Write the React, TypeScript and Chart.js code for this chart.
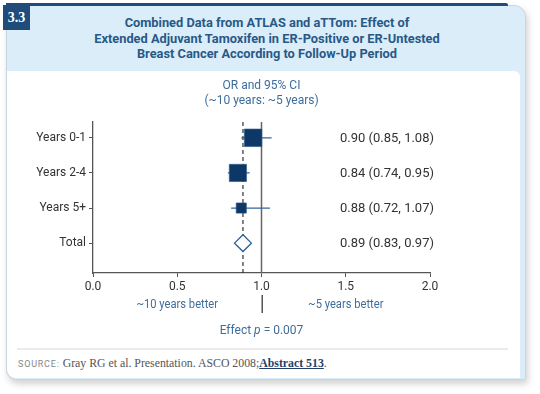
import React, { useEffect, useRef } from 'react';
import { Chart, registerables } from 'chart.js';

Chart.register(...registerables);

// ---- Data ----
const categories = ['Years 0-1', 'Years 2-4', 'Years 5+', 'Total'];
const periodOR = [0.95, 0.86, 0.88];
const periodLow = [0.88, 0.8, 0.82];
const periodHigh = [1.06, 0.93, 1.05];
const totalOR = 0.89;
const totalLow = 0.84;
const totalHigh = 0.94;
const orLabels = ['0.90 (0.85, 1.08)', '0.84 (0.74, 0.95)', '0.88 (0.72, 1.07)', '0.89 (0.83, 0.97)'];
const xTickValues = [0, 0.5, 1, 1.5, 2];
const betterLabels = ['~10 years better', '~5 years better'];
const effectP = '0.007';

// ---- Styles ----
const NAVY = '#0c3767';
const CI_BLUE = '#35659a';
const TEXT_BLUE = '#3f6d9b';
const AXIS = '#555555';
const FONT = 'Roboto, "Noto Sans", sans-serif';
const Y_MIN = -0.45;
const Y_MAX = 3.85;
const squareRadius = [12.4, 12.2, 7.2];

const annotPlugin = {
  id: 'annot',
  afterDraw(chart: any) {
    const { ctx, chartArea: a, scales } = chart;
    const x = scales.x;
    const y = scales.y;
    ctx.save();
    ctx.textBaseline = 'middle';
    ctx.font = `12px ${FONT}`;
    ctx.fillStyle = TEXT_BLUE;
    ctx.textAlign = 'center';
    ctx.fillText('OR and 95% CI', x.getPixelForValue(1), a.top - 36);
    ctx.fillText('(~10 years: ~5 years)', x.getPixelForValue(1), a.top - 21);

    ctx.fillStyle = '#333333';
    ctx.textAlign = 'right';
    ctx.font = `13px ${FONT}`;
    orLabels.forEach((t, i) => {
      ctx.fillText(t, a.right + 4, y.getPixelForValue(i) + 0.5);
    });

    ctx.font = `12px ${FONT}`;
    ctx.fillStyle = TEXT_BLUE;
    ctx.textAlign = 'center';
    ctx.save();
    ctx.translate(x.getPixelForValue(0.5), a.bottom + 32);
    ctx.scale(0.93, 1);
    ctx.fillText(betterLabels[0], 0, 0);
    ctx.restore();
    ctx.save();
    ctx.translate(x.getPixelForValue(1.5), a.bottom + 32);
    ctx.scale(0.93, 1);
    ctx.fillText(betterLabels[1], 0, 0);
    ctx.restore();

    ctx.strokeStyle = AXIS;
    ctx.lineWidth = 1.5;
    ctx.beginPath();
    const x1 = Math.round(x.getPixelForValue(1)) + 0.25;
    ctx.moveTo(x1, a.bottom + 22);
    ctx.lineTo(x1, a.bottom + 40);
    ctx.stroke();

    // Effect p = ...
    const pre = 'Effect ';
    const pv = 'p';
    const post = ' = ' + effectP;
    ctx.font = `12px ${FONT}`;
    const w1 = ctx.measureText(pre).width;
    const w3 = ctx.measureText(post).width;
    ctx.font = `italic 12px ${FONT}`;
    const w2 = ctx.measureText(pv).width;
    const total = w1 + w2 + w3;
    let sx = x.getPixelForValue(1) - total / 2;
    const sy = a.bottom + 58;
    ctx.textAlign = 'left';
    ctx.font = `12px ${FONT}`;
    ctx.fillText(pre, sx, sy);
    sx += w1;
    ctx.font = `italic 12px ${FONT}`;
    ctx.fillText(pv, sx, sy);
    sx += w2;
    ctx.font = `12px ${FONT}`;
    ctx.fillText(post, sx, sy);
    ctx.restore();
  },
};

function ForestChart() {
  const ref = useRef<HTMLCanvasElement>(null);
  useEffect(() => {
    if (!ref.current) return;
    const ciData: any[] = [];
    periodOR.forEach((_, i) => {
      ciData.push({ x: periodLow[i], y: i }, { x: periodHigh[i], y: i }, { x: null, y: null });
    });
    const squares = periodOR.map((v, i) => ({ x: v, y: i }));
    const chart = new Chart(ref.current, {
      type: 'scatter',
      data: {
        datasets: [
          {
            label: 'OR',
            data: squares,
            pointStyle: 'rect',
            pointRadius: squareRadius,
            pointBackgroundColor: NAVY,
            pointBorderColor: '#2a5a8c',
            pointBorderWidth: 0.6,
            order: 0,
          } as any,
          {
            label: 'Total',
            data: [{ x: totalOR, y: 3 }],
            pointStyle: 'rectRot',
            pointRadius: (c: any) => {
              const sc = c.chart.scales.x;
              return (sc.getPixelForValue(totalHigh) - sc.getPixelForValue(totalLow)) / 2;
            },
            pointBackgroundColor: '#ffffff',
            pointBorderColor: '#2d5f93',
            pointBorderWidth: 1.3,
            order: 0,
          } as any,
          {
            label: 'CI',
            data: ciData,
            showLine: true,
            spanGaps: false,
            borderColor: CI_BLUE,
            borderWidth: 1.3,
            pointRadius: 0,
            order: 1,
          } as any,
          {
            label: 'ref',
            data: [{ x: 1, y: Y_MIN }, { x: 1, y: Y_MAX }],
            showLine: true,
            borderColor: '#666666',
            borderWidth: 1.5,
            pointRadius: 0,
            order: 2,
          } as any,
          {
            label: 'pooled',
            data: [{ x: totalOR, y: Y_MIN }, { x: totalOR, y: Y_MAX }],
            showLine: true,
            borderColor: '#333333',
            borderWidth: 1.2,
            borderDash: [4, 3],
            pointRadius: 0,
            order: 3,
          } as any,
        ],
      },
      options: {
        animation: false,
        responsive: false,
        maintainAspectRatio: false,
        layout: { padding: { top: 50, left: 0, right: 90, bottom: 50 } },
        plugins: { legend: { display: false }, tooltip: { enabled: false } },
        scales: {
          x: {
            type: 'linear',
            min: 0,
            max: 2,
            afterBuildTicks: (s: any) => {
              s.ticks = xTickValues.map((v) => ({ value: v }));
            },
            afterFit: (s: any) => {
              s.height = 24;
            },
            ticks: {
              callback: (v: any) => Number(v).toFixed(1),
              color: '#333333',
              font: { family: FONT, size: 12 },
              padding: 3,
              maxRotation: 0,
              autoSkip: false,
            },
            grid: { drawOnChartArea: false, tickLength: 4, color: AXIS, lineWidth: 1 },
            border: { color: AXIS, width: 1.3 },
          },
          y: {
            type: 'linear',
            reverse: true,
            min: Y_MIN,
            max: Y_MAX,
            afterBuildTicks: (s: any) => {
              s.ticks = categories.map((_, i) => ({ value: i }));
            },
            afterFit: (s: any) => {
              s.width = 93;
            },
            ticks: {
              callback: (v: any) => categories[v] ?? '',
              color: '#333333',
              font: { family: FONT, size: 12 },
              padding: 3,
              autoSkip: false,
            },
            grid: { drawOnChartArea: false, tickLength: 4, color: AXIS, lineWidth: 1 },
            border: { color: AXIS, width: 1.3 },
          },
        },
      },
      plugins: [annotPlugin],
    });
    return () => chart.destroy();
  }, []);
  return (
    <canvas
      ref={ref}
      width={520}
      height={275}
      style={{ position: 'absolute', left: 0, top: 72, width: 520, height: 275, display: 'block' }}
    />
  );
}

export default function App() {
  const lightBlue = '#dcedfa';
  const navy = '#1f4c7a';
  return (
    <div style={{ position: 'absolute', left: 0, top: 0, width: 540, height: 394, background: '#ffffff', overflow: 'hidden' }}>
      {/* card */}
      <div
        style={{
          position: 'absolute',
          left: 6,
          top: 5,
          width: 518,
          height: 373,
          background: lightBlue,
          border: '1px solid #c9d5de',
          borderRadius: '0 12px 2px 10px',
          boxShadow: '2px 4px 7px rgba(0,0,0,0.18)',
        }}
      />
      {/* white panel */}
      <div
        style={{
          position: 'absolute',
          left: 7,
          top: 71,
          width: 513,
          height: 307,
          background: '#ffffff',
          borderRadius: '0 6px 0 9px',
        }}
      />
      {/* top navy bar */}
      <div style={{ position: 'absolute', left: 6, top: 3, width: 502, height: 3, background: navy, borderRadius: '0 2px 0 0' }} />
      {/* number box */}
      <div
        style={{
          position: 'absolute',
          left: 3,
          top: 5,
          width: 27,
          height: 25,
          background: navy,
          color: '#ffffff',
          fontFamily: '"Liberation Serif", serif',
          fontWeight: 'bold',
          fontSize: 14,
          lineHeight: '25px',
          textAlign: 'center',
        }}
      >
        3.3
      </div>
      {/* title */}
      <div
        style={{
          position: 'absolute',
          left: 7,
          top: 15,
          width: 520,
          textAlign: 'center',
          fontFamily: FONT,
          fontWeight: 'bold',
          fontSize: 13,
          lineHeight: '15.5px',
          color: '#285986',
          transform: 'scaleX(0.985)',
          transformOrigin: '50% 0',
          whiteSpace: 'nowrap',
        }}
      >
        <div>Combined Data from ATLAS and aTTom: Effect of</div>
        <div>Extended Adjuvant Tamoxifen in ER-Positive or ER-Untested</div>
        <div>Breast Cancer According to Follow-Up Period</div>
      </div>
      <ForestChart />
      {/* separator */}
      <div style={{ position: 'absolute', left: 17, top: 348, width: 491, height: 2, background: '#ebebeb' }} />
      {/* source */}
      <div
        style={{
          position: 'absolute',
          left: 18,
          top: 355,
          whiteSpace: 'nowrap',
          fontFamily: '"Liberation Serif", serif',
          fontSize: 11.8,
          lineHeight: '16px',
          color: '#555555',
        }}
      >
        <span style={{ fontFamily: FONT, fontSize: 9, letterSpacing: 0.8, color: '#888888' }}>SOURCE:</span>{' '}
        Gray RG et al. Presentation. ASCO 2008;
        <span style={{ fontWeight: 'bold', color: '#1f3f6e', textDecoration: 'underline' }}>Abstract 513</span>.
      </div>
    </div>
  );
}
